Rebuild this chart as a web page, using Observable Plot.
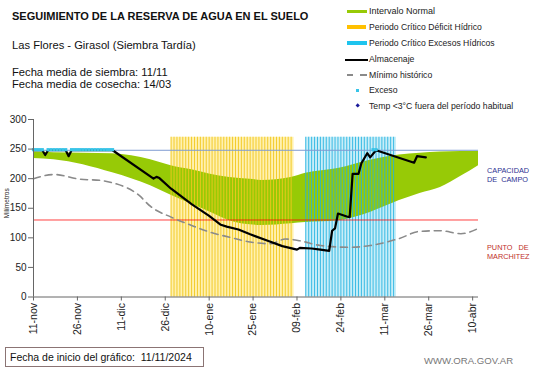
<!DOCTYPE html>
<html><head><meta charset="utf-8">
<script src="https://cdn.jsdelivr.net/npm/d3@7"></script>
<script src="https://cdn.jsdelivr.net/npm/@observablehq/plot@0.6"></script>
<style>
body{margin:0;background:#fff;font-family:"Liberation Sans",Arial,sans-serif;}
#wrap{position:relative;width:541px;height:368px;overflow:hidden;background:#fff;}
#wrap svg{position:absolute;left:0;top:0;}
.t{position:absolute;white-space:pre;line-height:1;color:#111;}
.sw{position:absolute;}
</style></head><body><div id="wrap"></div>
<script>
// ---- data ----
const domainDates = ["2024-11-11", "2025-04-12"];
const tickDates = ["2024-11-11","2024-11-26","2024-12-11","2024-12-26","2025-01-10","2025-01-25","2025-02-09","2025-02-24","2025-03-11","2025-03-26","2025-04-10"];
const tickLabels = ["11-nov","26-nov","11-dic","26-dic","10-ene","25-ene","09-feb","24-feb","11-mar","26-mar","10-abr"];
const yTicks = [0, 50, 100, 150, 200, 250, 300];

const normalDates = ["2024-11-11","2024-11-18","2024-12-08","2024-12-21","2024-12-28","2025-01-04","2025-01-10","2025-01-17","2025-01-24","2025-01-28","2025-02-07","2025-02-12","2025-02-23","2025-03-06","2025-03-16","2025-03-23","2025-03-30","2025-04-06","2025-04-12"];
const normalLow  = [234,232,210,188,172,157,144,129,122,121,124,126,129,143,163,175,185,204,222];
const normalHigh = [245,244,242,232,222,215,208,202,199,197,202,209,217,231,240,243,245,246,246];

const minDates = ["2024-11-11","2024-11-18","2024-11-27","2024-12-04","2024-12-08","2024-12-17","2024-12-21","2024-12-28","2025-01-04","2025-01-10","2025-01-17","2025-01-24","2025-01-31","2025-02-05","2025-02-10","2025-02-17","2025-02-27","2025-03-06","2025-03-16","2025-03-23","2025-03-30","2025-04-06","2025-04-12"];
const minValues = [200,207,199,197,193,172,153,135,121,110,101,93,90,98,95,87,84,87,99,111,112,107,116];

const storeDates = ["2024-11-11","2024-11-14","2024-11-15","2024-11-16","2024-11-22","2024-11-23","2024-11-24","2024-12-08","2024-12-22","2024-12-23","2024-12-24","2024-12-28","2025-01-04","2025-01-10","2025-01-14","2025-01-16","2025-01-20","2025-01-24","2025-01-30","2025-02-04","2025-02-09","2025-02-10","2025-02-14","2025-02-17","2025-02-20","2025-02-21","2025-02-22","2025-02-23","2025-02-26","2025-02-27","2025-02-28","2025-03-02","2025-03-03","2025-03-05","2025-03-06","2025-03-08","2025-03-21","2025-03-22","2025-03-25"];
const storeValues = [248,248,240,248,248,238,248,248,200,203,201,183,157,137,122,119,114,106,95,86,80,83,82,80,78,112,116,141,136,135,208,208,226,243,236,248,227,238,236];

const excesoDates = ["2024-11-11","2024-11-12","2024-11-13","2024-11-14","2024-11-16","2024-11-17","2024-11-18","2024-11-19","2024-11-20","2024-11-21","2024-11-22","2024-11-24","2024-11-25","2024-11-26","2024-11-27","2024-11-28","2024-11-29","2024-11-30","2024-12-01","2024-12-02","2024-12-03","2024-12-04","2024-12-05","2024-12-06","2024-12-07","2024-12-08","2025-03-07","2025-03-08"];
const excesoValue = 249;

const deficitPeriod = ["2024-12-28", "2025-02-07"];
const excesosPeriod = ["2025-02-12", "2025-03-14"];
const periodTop = 270;
const capacidadCampo = 248;
const puntoMarchitez = 131;

const legendLabels = ["Intervalo Normal","Periodo Crítico Déficit Hídrico","Periodo Crítico Excesos Hídricos","Almacenaje","Mínimo histórico","Exceso","Temp <3°C fuera del período habitual"];

// ---- build ----
const P = d3.utcParse("%Y-%m-%d");
const normal = normalDates.map((d,i)=>({date:P(d), low:normalLow[i], high:normalHigh[i]}));
const minData = minDates.map((d,i)=>({date:P(d), v:minValues[i]}));
const store = storeDates.map((d,i)=>({date:P(d), v:storeValues[i]}));
const exceso = excesoDates.map(d=>({date:P(d), v:excesoValue}));
const days = p => d3.utcDay.range(P(p[0]), d3.utcDay.offset(P(p[1]),1));
const defDays = days(deficitPeriod), excDays = days(excesosPeriod);
const labelOf = new Map(tickDates.map((d,i)=>[+P(d), tickLabels[i]]));

const chart = Plot.plot({
  width: 541, height: 368,
  marginLeft: 33, marginRight: 63, marginTop: 119, marginBottom: 71.5,
  style: {background: "transparent", fontFamily: "'Liberation Sans', Arial, sans-serif"},
  x: {type: "utc", domain: domainDates.map(P)},
  y: {domain: [0, 300]},
  marks: [
    Plot.rect([0], {x1: P(deficitPeriod[0]), x2: d3.utcDay.offset(P(deficitPeriod[1]),1), y1: 0, y2: periodTop, fill: "#fff1b0"}),
    Plot.rect([0], {x1: P(excesosPeriod[0]), x2: d3.utcDay.offset(P(excesosPeriod[1]),1), y1: 0, y2: periodTop, fill: "#c8eef8"}),
    Plot.areaY(normal, {x: "date", y1: "low", y2: "high", fill: "#97ca06", curve: "monotone-x"}),
    Plot.ruleX(defDays, {x: d=>d, y1: 0, y2: periodTop, stroke: "#f2c81e", strokeWidth: 1, strokeOpacity: 0.9}),
    Plot.ruleX(excDays, {x: d=>d, y1: 0, y2: periodTop, stroke: "#22b2e0", strokeWidth: 1, strokeOpacity: 0.85}),
    Plot.ruleY([capacidadCampo], {stroke: "#7f9bd2", strokeWidth: 1}),
    Plot.ruleY([puntoMarchitez], {stroke: "red", strokeOpacity: 0.75, strokeWidth: 1, dy: 0.5}),
    Plot.line(minData, {x: "date", y: "v", stroke: "#8a8a8a", strokeWidth: 1.6, strokeDasharray: "7,5", curve: "monotone-x"}),
    Plot.line(store, {x: "date", y: "v", stroke: "#000", strokeWidth: 2.2}),
    Plot.dot(exceso, {x: "date", y: "v", r: 1.8, symbol: "square", fill: "#38c4e8"}),
    Plot.ruleY([0], {stroke: "#666"}),
    Plot.ruleX([P(domainDates[0])], {y1: 0, y2: 300, stroke: "#666"}),
    Plot.axisY({ticks: yTicks, tickSize: 5, tickPadding: 2, fontSize: 10, stroke: "#666", color: "#222", label: null}),
    Plot.axisX({ticks: tickDates.map(P), tickFormat: d => labelOf.get(+d), tickRotate: -90, tickSize: 4, tickPadding: 2, fontSize: 10.5, stroke: "#666", color: "#222", label: null})
  ]
});
const wrap = document.getElementById("wrap");
wrap.appendChild(chart);

function txt(s, x, cy, size, opts = {}) {
  const e = document.createElement("div");
  e.className = "t";
  e.textContent = s;
  e.style.left = x + "px";
  e.style.top = (cy - 0.49 * size) + "px";
  e.style.fontSize = size + "px";
  Object.assign(e.style, opts);
  wrap.appendChild(e);
  return e;
}
function box(x, y, w, h, style) {
  const e = document.createElement("div");
  e.className = "sw";
  Object.assign(e.style, {left: x + "px", top: y + "px", width: w + "px", height: h + "px"}, style);
  wrap.appendChild(e);
  return e;
}

txt("SEGUIMIENTO DE LA RESERVA DE AGUA EN EL SUELO", 12, 16, 11, {fontWeight: "bold"});
txt("Las Flores - Girasol (Siembra Tardía)", 12, 45, 11.2);
txt("Fecha media de siembra: 11/11", 12, 72.5, 11.2);
txt("Fecha media de cosecha: 14/03", 12, 84.5, 11.2);

// legend
const ly = [11.5, 27, 43, 59.5, 75, 90.5, 106];
const lsz = [9, 8.6, 8.6, 8.7, 8.7, 8.7, 8.7];
legendLabels.forEach((s, i) => txt(s, 369, ly[i], lsz[i], {color: "#222"}));
box(347, ly[0] - 1.8, 20, 3.6, {background: "#97ca06"});
box(347, ly[1] - 1.8, 19, 3.6, {background: "#ffc000"});
box(347, ly[2] - 1.8, 20, 3.6, {background: "#1ec4ee"});
box(345, ly[3] - 1, 23, 2, {background: "#000"});
box(347, ly[4] - 0.8, 6, 1.6, {background: "#8a8a8a"});
box(360, ly[4] - 0.8, 7, 1.6, {background: "#8a8a8a"});
box(356, ly[5] - 1.3, 2.6, 2.6, {background: "#38c4e8"});
box(355.6, ly[6] - 1.7, 3.4, 3.4, {background: "#1a1a9a", transform: "rotate(45deg)"});

// y label
txt("Milímetros", -9, 203, 6.5, {transform: "rotate(-90deg)", transformOrigin: "center", width: "32px", textAlign: "center", color: "#222"});

// right annotations
txt("CAPACIDAD\nDE  CAMPO", 487, 170, 7.3, {color: "#2e3192", lineHeight: "9px"});
txt("PUNTO   DE\nMARCHITEZ", 487, 247, 7.3, {color: "#c0302a", lineHeight: "9px"});

// bottom
box(5, 347, 199, 20, {border: "1px solid #8b7474", boxSizing: "border-box"});
txt("Fecha de inicio del gráfico:  11/11/2024", 10, 357.5, 10.5, {color: "#111"});
txt("WWW.ORA.GOV.AR", 424, 361, 9.6, {color: "#777"});
</script></body></html>
